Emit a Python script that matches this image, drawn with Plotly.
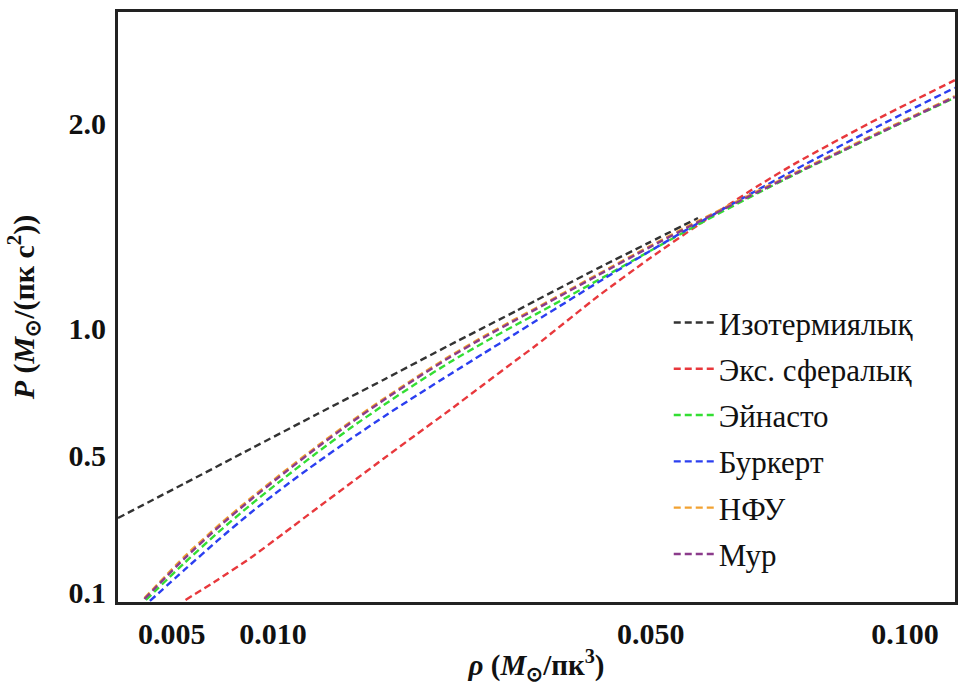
import plotly.graph_objects as go

# ---- data ----
names = ["Изотермиялық", "Экс. сфералық", "Эйнасто", "Буркерт", "НФУ", "Мур"]
colors = ["#333333", "#e8383c", "#33de33", "#2b3ff0", "#f2a232", "#8b3b8b"]

rho_iso = [0.00314, 0.00551, 0.00870, 0.01286, 0.01799, 0.02415, 0.03151, 0.03393, 0.04215, 0.04956, 0.05773]
P_iso = [0.294, 0.403, 0.522, 0.651, 0.786, 0.930, 1.079, 1.126, 1.273, 1.391, 1.513]

rho_exp = [0.00556, 0.00700, 0.00870, 0.01068, 0.01286, 0.01527, 0.01799, 0.02095, 0.02415, 0.02770,
           0.03151, 0.03393, 0.04215, 0.04956, 0.05773, 0.06851, 0.07633, 0.09349, 0.11225]
P_exp = [0.0831, 0.1272, 0.1816, 0.2500, 0.3246, 0.4030, 0.4881, 0.5761, 0.6664, 0.7657,
         0.8678, 0.9296, 1.1445, 1.3130, 1.4784, 1.6724, 1.7953, 2.0219, 2.2341]

rho_ein = [0.00404, 0.00551, 0.00700, 0.00870, 0.01068, 0.01286, 0.01527, 0.01799, 0.02095, 0.02415,
           0.02770, 0.03151, 0.03393, 0.04215, 0.04956, 0.05773, 0.06851, 0.07633, 0.09349, 0.11225]
P_ein = [0.0831, 0.1687, 0.2500, 0.3339, 0.4213, 0.5096, 0.5972, 0.6857, 0.7725, 0.8574,
         0.9394, 1.0183, 1.0649, 1.2175, 1.3484, 1.4808, 1.6370, 1.7388, 1.9404, 2.1383]

rho_bur = [0.00418, 0.00551, 0.00700, 0.00870, 0.01068, 0.01286, 0.01527, 0.01799, 0.02095, 0.02415,
           0.02770, 0.03151, 0.03393, 0.04215, 0.04956, 0.05773, 0.06851, 0.07633, 0.09349, 0.11225]
P_bur = [0.0811, 0.1512, 0.2283, 0.3092, 0.3925, 0.4745, 0.5567, 0.6408, 0.7240, 0.8073,
         0.8937, 0.9814, 1.0353, 1.2078, 1.3479, 1.4877, 1.6532, 1.7633, 1.9813, 2.1924]

rho_nfw = [0.00399, 0.00551, 0.00700, 0.00870, 0.01068, 0.01286, 0.01527, 0.01799, 0.02095, 0.02415,
           0.02770, 0.03151, 0.03393, 0.04215, 0.04956, 0.05773, 0.06851, 0.07633, 0.09349, 0.11225]
P_nfw = [0.0870, 0.1850, 0.2694, 0.3546, 0.4431, 0.5324, 0.6208, 0.7101, 0.7977, 0.8832,
         0.9657, 1.0452, 1.0921, 1.2456, 1.3725, 1.4980, 1.6470, 1.7462, 1.9470, 2.1460]

rho_moore = [0.00399, 0.00551, 0.00700, 0.00870, 0.01068, 0.01286, 0.01527, 0.01799, 0.02095, 0.02415,
             0.02770, 0.03151, 0.03393, 0.04215, 0.04956, 0.05773, 0.06851, 0.07633, 0.09349, 0.11225]
P_moore = [0.0852, 0.1801, 0.2644, 0.3496, 0.4381, 0.5274, 0.6159, 0.7052, 0.7927, 0.8782,
           0.9607, 1.0402, 1.0871, 1.2406, 1.3675, 1.4931, 1.6421, 1.7412, 1.9420, 2.1410]

x_ticks = [0.005, 0.010, 0.050, 0.100]
x_tick_labels = ["0.005", "0.010", "0.050", "0.100"]
y_ticks = [0.1, 0.5, 1.0, 2.0]
y_tick_labels = ["0.1", "0.5", "1.0", "2.0"]

# power-scale axes (as in the reference figure)
X_POW = 0.4
Y_POW = 0.7
x_lim = (0.00314, 0.1123)
y_lim = (0.079, 2.62)


def sx(v):
    return [a ** X_POW for a in v]


def sy(v):
    return [a ** Y_POW for a in v]


series = [
    (rho_iso, P_iso), (rho_exp, P_exp), (rho_ein, P_ein),
    (rho_bur, P_bur), (rho_nfw, P_nfw), (rho_moore, P_moore),
]

SERIF = "Liberation Serif, Times New Roman, serif"
INK = "#111111"

fig = go.Figure()
for i, ((rx, py), name, col) in enumerate(zip(series, names, colors)):
    fig.add_trace(go.Scatter(
        x=sx(rx), y=sy(py), mode="lines", name=name,
        legendgroup=f"g{i}",
        line=dict(color=col, width=2.4, dash="7px,4px", shape="spline", smoothing=0.6),
        hoverinfo="skip",
    ))

fig.update_layout(
    width=960, height=693,
    margin=dict(l=118, r=2, t=12, b=91),
    paper_bgcolor="white", plot_bgcolor="white",
    font=dict(family=SERIF, color=INK),
    showlegend=True,
    legend=dict(
        x=0.658, y=0.519, xanchor="left", yanchor="top",
        bgcolor="rgba(0,0,0,0)", font=dict(family=SERIF, size=31, color=INK),
        tracegroupgap=3, itemwidth=40,
    ),
)

fig.update_xaxes(
    range=[x_lim[0] ** X_POW, x_lim[1] ** X_POW],
    tickvals=sx(x_ticks), ticktext=[f"<b>{t}</b>" for t in x_tick_labels],
    tickfont=dict(family=SERIF, size=30, color=INK),
    ticks="", ticklabelstandoff=3,
    showgrid=False, zeroline=False,
    showline=True, mirror=True, linecolor="#222222", linewidth=3,
    title=dict(text="<b><i>ρ</i> (<i>M</i><sub>⊙</sub>/пк<sup>3</sup>)</b>",
               font=dict(family=SERIF, size=29, color=INK), standoff=6),
)
fig.update_yaxes(
    range=[y_lim[0] ** Y_POW, y_lim[1] ** Y_POW],
    tickvals=sy(y_ticks), ticktext=[f"<b>{t}</b>" for t in y_tick_labels],
    tickfont=dict(family=SERIF, size=30, color=INK),
    ticks="", ticklabelstandoff=3,
    showgrid=False, zeroline=False,
    showline=True, mirror=True, linecolor="#222222", linewidth=3,
    title=dict(text="<b><i>P</i> (<i>M</i><sub>⊙</sub>/(пк с<sup>2</sup>))</b>",
               font=dict(family=SERIF, size=30, color=INK), standoff=26),
)

fig.write_html("out.html")
